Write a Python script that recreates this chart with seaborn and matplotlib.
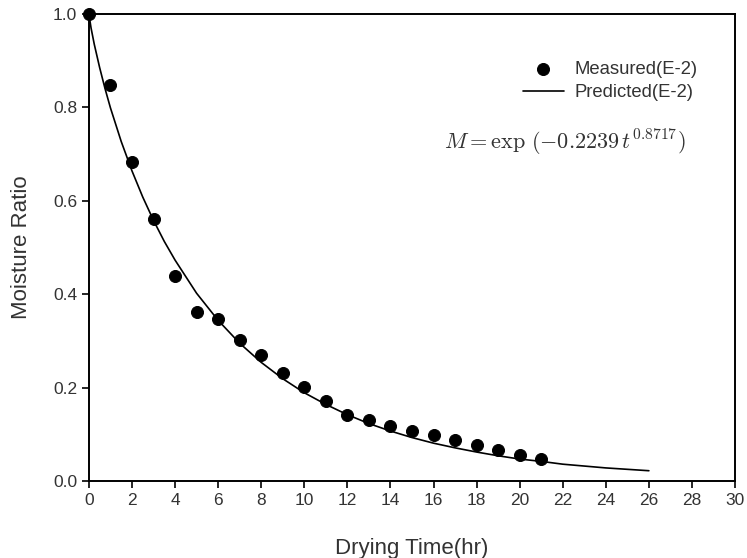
import matplotlib
matplotlib.use("Agg")
import matplotlib.pyplot as plt
import seaborn as sns
import pandas as pd

time_meas = [0, 1, 2, 3, 4, 5, 6, 7, 8, 9, 10, 11, 12, 13, 14, 15, 16, 17, 18, 19, 20, 21]
mr_meas = [1.0, 0.848, 0.683, 0.561, 0.439, 0.362, 0.347, 0.302, 0.270, 0.231, 0.201,
           0.172, 0.142, 0.131, 0.118, 0.106, 0.098, 0.088, 0.077, 0.066, 0.056, 0.047]

# Predicted curve
time_pred = [0, 0.1, 0.25, 0.5, 0.75, 1, 1.5, 2, 2.5, 3, 3.5, 4, 5, 6, 7, 8, 9, 10, 11, 12,
             13, 14, 15, 16, 17, 18, 19, 20, 21, 22, 23, 24, 25, 26]
mr_pred = [1.0, 0.970, 0.935, 0.885, 0.840, 0.799, 0.727, 0.664, 0.608, 0.558, 0.513, 0.473,
           0.402, 0.344, 0.295, 0.254, 0.219, 0.189, 0.164, 0.142, 0.123, 0.107, 0.093, 0.081,
           0.071, 0.062, 0.054, 0.047, 0.042, 0.036, 0.032, 0.028, 0.025, 0.022]

x_ticks = list(range(0, 31, 2))
y_ticks = [0.0, 0.2, 0.4, 0.6, 0.8, 1.0]

sns.set_theme(style="ticks")
plt.rcParams['font.family'] = ['Liberation Sans', 'DejaVu Sans']
plt.rcParams['mathtext.fontset'] = 'cm'

fig = plt.figure(figsize=(7.47, 5.58), dpi=100)
ax = fig.add_axes([0.119, 0.138, 0.865, 0.837])

df_meas = pd.DataFrame({"t": time_meas, "mr": mr_meas})
df_pred = pd.DataFrame({"t": time_pred, "mr": mr_pred})

sns.lineplot(data=df_pred, x="t", y="mr", ax=ax, color="black", linewidth=1.2,
             label="Predicted(E-2)", zorder=2)
sns.scatterplot(data=df_meas, x="t", y="mr", ax=ax, color="black", edgecolor="black",
                s=75, label="Measured(E-2)", zorder=3, clip_on=False)

ax.set_xlim(0, 30)
ax.set_ylim(0, 1.0)
ax.set_xticks(x_ticks)
ax.set_yticks(y_ticks)
ax.set_yticklabels([f"{v:.1f}" for v in y_ticks])
ax.tick_params(axis='both', direction='out', length=5, width=1.2, labelsize=12.5,
               colors='black', labelcolor='#333333', top=False, right=False)
for s in ax.spines.values():
    s.set_linewidth(1.4)
    s.set_color('black')
    s.set_visible(True)

ax.set_xlabel("Drying Time(hr)", fontsize=16, labelpad=22, color='#333333')
ax.set_ylabel("Moisture Ratio", fontsize=16, labelpad=15, color='#333333')

handles, labels = ax.get_legend_handles_labels()
order = [labels.index("Measured(E-2)"), labels.index("Predicted(E-2)")]
leg = ax.legend([handles[i] for i in order], [labels[i] for i in order],
                loc='upper right', bbox_to_anchor=(0.968, 0.935), frameon=False,
                fontsize=13.3, handlelength=2.2, handletextpad=0.6, labelspacing=0.35,
                markerscale=1.0)
for t in leg.get_texts():
    t.set_color('#333333')

ax.text(16.5, 0.724, r"$M = \exp\,(-0.2239\,t^{0.8717})$", fontsize=16, ha='left', va='center',
        color='#333333')

fig.savefig("out.png", dpi=100)
